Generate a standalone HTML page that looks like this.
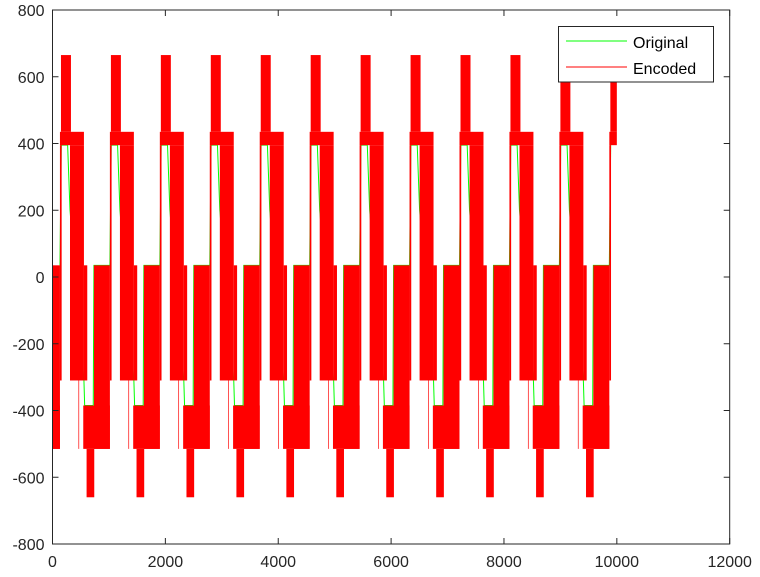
<!DOCTYPE html>
<html><head><meta charset="utf-8"><style>
body{margin:0;background:#fff}
svg{display:block;font-family:"Liberation Sans",Arial,sans-serif}
</style></head><body>
<svg id="c" width="760" height="577">
<g id="plot"></g>
<g id="axes"></g>
</svg>
<script>
// data
const xTicks = [0,2000,4000,6000,8000,10000,12000];
const yTicks = [-800,-600,-400,-200,0,200,400,600,800];
const periodStarts = [-735,150,1035,1920,2805,3690,4575,5460,6345,7230,8115,9000,9885];
// encoded blocks per period: [x0 offset, x1 offset, yTop, yBottom]
const encodedBlocks = [
 [0,177,665,435],
 [-18,407,435,395],
 [160,407,395,-310],
 [-18,12,395,-310],
 [407,466,35,-310],
 [310,322,-310,-515],
 [395,867,-385,-515],
 [454,590,-515,-660],
 [584,867,35,-515]
];
// original (green) per period: offsets and values
const origX = [-18,6,118,160,407,420,572,584,867];
const origY = [35,395,395,200,-310,-385,-385,35,35];
const dataEnd = 10000;

const X0=52.5,X1=729.7,Y0=544,Y1=10;
const sx=v=>X0+(v-0)/(12000)*(X1-X0);
const sy=v=>Y0-(v+800)/1600*(Y0-Y1);
const NS='http://www.w3.org/2000/svg';
function mk(t,a,p){const e=document.createElementNS(NS,t);for(const k in a)e.setAttribute(k,a[k]);p.appendChild(e);return e;}
const plot=document.getElementById('plot'), axes=document.getElementById('axes');

periodStarts.forEach(s=>{
  const pts=[];
  origX.forEach((o,i)=>{const x=s+o; if(x>=0&&x<=dataEnd) pts.push(sx(x)+','+sy(origY[i]));});
  if(pts.length<2) return;
  const l=mk('polyline',{points:pts.join(' '),fill:'none',stroke:'#00ff00','stroke-width':1},plot);
  
  
});
periodStarts.forEach(s=>{
  encodedBlocks.forEach(b=>{
    let a=Math.max(0,s+b[0]), z=Math.min(dataEnd,s+b[1]);
    if(z<=a) return;
    const r=mk('rect',{x:sx(a),y:sy(b[2]),width:sx(z)-sx(a),height:sy(b[3])-sy(b[2]),fill:'#ff0000'},plot);
    
    
  });
});
mk('rect',{x:X0,y:Y1,width:X1-X0,height:Y0-Y1,fill:'none',stroke:'#262626','stroke-width':1},axes);
xTicks.forEach(v=>{
  const x=sx(v);
  mk('line',{x1:x,x2:x,y1:Y0,y2:Y0-6,stroke:'#262626'},axes);
  mk('line',{x1:x,x2:x,y1:Y1,y2:Y1+6,stroke:'#262626'},axes);
  const t=mk('text',{x:x,y:Y0+23,'text-anchor':'middle','font-size':16,fill:'#262626'},axes);
  t.textContent=v;
  
  
});
yTicks.forEach(v=>{
  const y=sy(v);
  mk('line',{x1:X0,x2:X0+6,y1:y,y2:y,stroke:'#262626'},axes);
  mk('line',{x1:X1,x2:X1-6,y1:y,y2:y,stroke:'#262626'},axes);
  const t=mk('text',{x:X0-8,y:y+6,'text-anchor':'end','font-size':16,fill:'#262626'},axes);
  t.textContent=v;
  
  
});
</script>
<svg style="position:absolute;left:0;top:0" width="760" height="577">
<rect x="558.5" y="26.5" width="155" height="55.5" fill="#fff" stroke="#262626"/>
<line x1="566" x2="627" y1="41" y2="41" stroke="#00ff00"/>
<line x1="566" x2="627" y1="67" y2="67" stroke="#ff0000"/>
<text x="633" y="48" font-size="16" fill="#000" font-family="Liberation Sans, Arial, sans-serif">Original</text>
<text x="633" y="74" font-size="16" fill="#000" font-family="Liberation Sans, Arial, sans-serif">Encoded</text>
</svg>
</body></html>
